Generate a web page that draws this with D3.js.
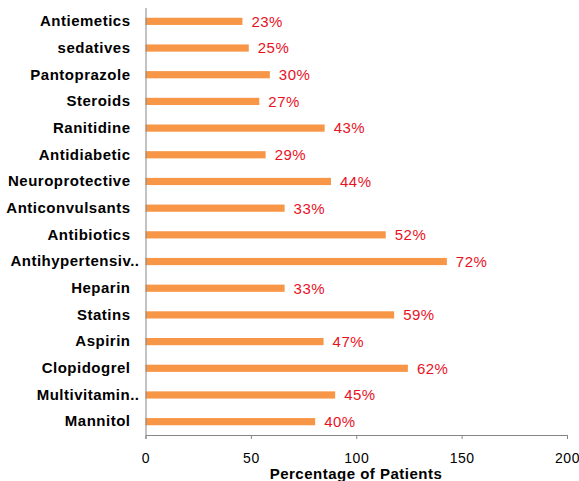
<!DOCTYPE html>
<html><head><meta charset="utf-8">
<script src="https://cdn.jsdelivr.net/npm/d3@7"></script>
<style>body{margin:0;background:#fff}</style>
</head><body>
<script>
const categories = ["Antiemetics","sedatives","Pantoprazole","Steroids","Ranitidine","Antidiabetic","Neuroprotective","Anticonvulsants","Antibiotics","Antihypertensiv..","Heparin","Statins","Aspirin","Clopidogrel","Multivitamin..","Mannitol"];
const values = [46, 49, 59, 54, 85, 57, 88, 66, 114, 143, 66, 118, 84.5, 124.5, 90, 80.5];
const labels = ["23%","25%","30%","27%","43%","29%","44%","33%","52%","72%","33%","59%","47%","62%","45%","40%"];
const xTicks = [0, 50, 100, 150, 200];

const W = 579, H = 481;
const m = {left: 145.5, right: 12, top: 8, bottom: 46};
const svg = d3.select("body").append("svg").attr("width", W).attr("height", H);
const x = d3.scaleLinear().domain([0, 200]).range([m.left, 567]);
const y = d3.scaleBand().domain(categories).range([m.top, 435]).paddingInner(0.73).paddingOuter(0.365);

svg.append("g").selectAll("rect").data(categories).join("rect")
  .attr("x", x(0)).attr("y", d => y(d))
  .attr("width", (d,i) => x(values[i]) - x(0)).attr("height", y.bandwidth())
  .attr("fill", "#f79646");

svg.append("g").selectAll("text").data(categories).join("text")
  .attr("x", (d,i) => x(values[i]) + 9).attr("y", d => y(d) + y.bandwidth()/2)
  .attr("dy", "0.36em").attr("fill", "#e8121f")
  .style("font", "15px 'Liberation Sans', Arial, sans-serif")
  .style("letter-spacing", "0.5px")
  .text((d,i) => labels[i]);

const yAxis = svg.append("g").attr("transform", `translate(${m.left},0)`)
  .call(d3.axisLeft(y).tickSize(0).tickPadding(15));
yAxis.select(".domain").attr("stroke", "#868686").attr("d", `M0.5,${m.top}V435`);
yAxis.selectAll("text").attr("fill", "#000")
  .style("font", "bold 15px 'Liberation Sans', Arial, sans-serif")
  .style("letter-spacing", "0.5px")
  .attr("dx", d => d.endsWith("..") ? 9 : 0);

const xAxis = svg.append("g").attr("transform", "translate(0,435)")
  .call(d3.axisBottom(x).tickValues(xTicks).tickSize(4).tickPadding(14));
xAxis.select(".domain").attr("stroke", "#868686");
xAxis.selectAll(".tick line").attr("stroke", "#868686");
xAxis.selectAll("text").attr("fill", "#000")
  .style("font", "14px 'Liberation Sans', Arial, sans-serif")
  .style("letter-spacing", "0.5px");

svg.append("text").attr("x", 356).attr("y", 479).attr("text-anchor", "middle")
  .style("font", "bold 15px 'Liberation Sans', Arial, sans-serif")
  .style("letter-spacing", "0.5px")
  .text("Percentage of Patients");
</script>
</body></html>
